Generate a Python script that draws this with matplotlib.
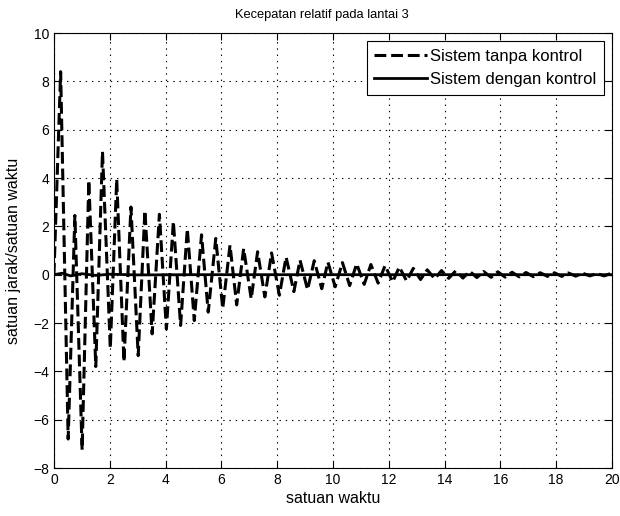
import numpy as np
import matplotlib
matplotlib.use("Agg")
import matplotlib.pyplot as plt

plt.rcParams['font.family'] = ['Liberation Sans', 'DejaVu Sans']
plt.rcParams['lines.scale_dashes'] = False

# Peaks of the uncontrolled response (time, value)
peak_t = [0.24, 0.75, 1.25, 1.74, 2.25, 2.76, 3.26, 3.78, 4.28, 4.78,
          5.29, 5.80, 6.31, 6.80, 7.30, 7.80, 8.32, 8.82, 9.33, 9.82,
          10.34, 10.85, 11.36, 11.87, 12.38, 12.88, 13.38, 13.89, 14.40, 14.90,
          15.40, 15.91, 16.42, 16.92, 17.43, 17.94, 18.44, 18.95, 19.46, 19.96]
peak_v = [8.4, 2.45, 3.9, 5.1, 3.95, 2.8, 2.65, 2.5, 2.2, 1.9,
          1.65, 1.5, 1.22, 1.08, 0.95, 0.9, 0.73, 0.6, 0.58, 0.52,
          0.5, 0.45, 0.42, 0.38, 0.32, 0.26, 0.2, 0.17, 0.16, 0.14,
          0.13, 0.12, 0.1, 0.09, 0.08, 0.08, 0.07, 0.06, 0.05, 0.05]

# Troughs of the uncontrolled response (time, value)
trough_t = [0.51, 1.01, 1.50, 2.02, 2.51, 3.02, 3.52, 4.03, 4.54, 5.03,
            5.53, 6.05, 6.55, 7.07, 7.56, 8.08, 8.60, 9.09, 9.60, 10.08,
            10.60, 11.12, 11.62, 12.14, 12.64, 13.14, 13.65, 14.15, 14.66, 15.16,
            15.67, 16.17, 16.68, 17.18, 17.69, 18.20, 18.70, 19.21, 19.72]
trough_v = [-6.8, -7.25, -3.8, -3.05, -3.6, -3.35, -2.45, -2.25, -2.1, -1.9,
            -1.55, -1.4, -1.25, -1.0, -0.92, -0.85, -0.7, -0.62, -0.58, -0.5,
            -0.45, -0.4, -0.35, -0.3, -0.26, -0.2, -0.17, -0.15, -0.14, -0.12,
            -0.11, -0.1, -0.09, -0.08, -0.07, -0.07, -0.06, -0.05, -0.05]

# Controlled response (nearly zero)
ctrl_t = [0, 0.3, 0.6, 1.0, 1.5, 2.0, 3.0, 5.0, 10.0, 20.0]
ctrl_v = [0, 0.06, -0.05, 0.04, -0.03, 0.02, -0.01, 0.0, 0.0, 0.0]

# merge extremes into one path starting at the origin
pts = [(0.0, 0.0)] + list(zip(peak_t, peak_v)) + list(zip(trough_t, trough_v))
pts.sort()
tanpa_t = [p[0] for p in pts]
tanpa_v = [p[1] for p in pts]

fig = plt.figure(figsize=(6.2, 5.16), dpi=100)
ax = fig.add_axes([0.087, 0.093, 0.900, 0.843])

ax.plot(tanpa_t, tanpa_v, color='black', linewidth=2.2, dashes=(8.5, 3.5),
        label='Sistem tanpa kontrol')
ax.plot(ctrl_t, ctrl_v, color='black', linewidth=2.0, label='Sistem dengan kontrol')

ax.set_xlim(0, 20)
ax.set_ylim(-8, 10)
ax.set_xticks(np.arange(0, 21, 2))
ax.set_yticks(np.arange(-8, 11, 2))
ax.tick_params(direction='in', top=True, right=True, labelsize=10, length=5)
ax.grid(True, linestyle=(0, (1, 3.5)), color='black', linewidth=0.8)
for s in ax.spines.values():
    s.set_linewidth(0.8)

ax.set_title('Kecepatan relatif pada lantai 3', fontsize=9.3, pad=11, x=0.48)
ax.set_xlabel('satuan waktu', fontsize=11.5, labelpad=3)
ax.set_ylabel('satuan jarak/satuan waktu', fontsize=11.5, labelpad=9)

leg = ax.legend(loc='upper right', fontsize=12, fancybox=False, framealpha=1,
                edgecolor='black', handlelength=3.2, handletextpad=0.15,
                borderaxespad=0.5, borderpad=0.45, labelspacing=0.5)
leg.get_frame().set_linewidth(0.8)

fig.savefig('out.png', dpi=100)
